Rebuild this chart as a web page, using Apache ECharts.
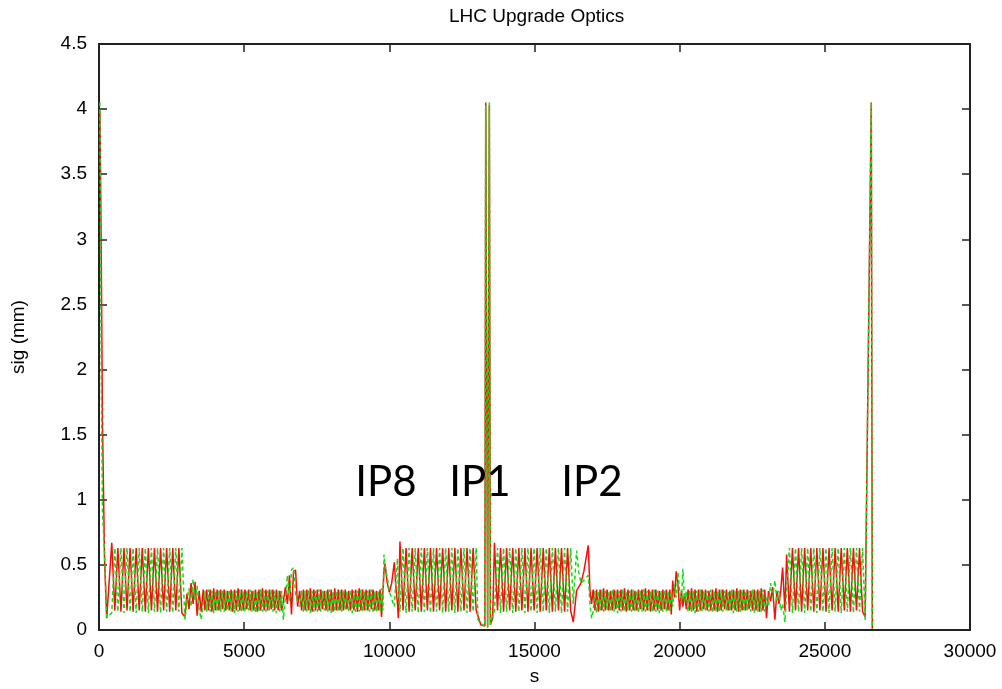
<!DOCTYPE html>
<html>
<head>
<meta charset="utf-8">
<script src="https://cdn.jsdelivr.net/npm/echarts@6.0.0/dist/echarts.min.js"></script>
<style>
html,body{margin:0;padding:0;background:#fff;}
#chart{width:1002px;height:689px;}
</style>
</head>
<body>
<div id="chart"></div>
<script>
// ---- tick values ----
const xTicks = [0, 5000, 10000, 15000, 20000, 25000, 30000];
const yTicks = [0, 0.5, 1, 1.5, 2, 2.5, 3, 3.5, 4, 4.5];

// ---- IP annotations ----
const ipNames = ['IP8', 'IP1', 'IP2'];
const ipS     = [9885, 13122, 16980];
const ipSig   = [1.135, 1.135, 1.135];

// ---- beam size data (s in m, sig in mm); red = sig x, green = sig y ----
// start
const sStart     = [30, 70, 120, 190, 265];
const redStart   = [4.00, 3.10, 1.60, 0.55, 0.09];
const greenStart = [4.05, 2.20, 0.90, 0.60, 0.10];
// arc 1
const sArc1     = [440, 545, 650, 755, 860, 965, 1070, 1175, 1280, 1385, 1490, 1595, 1700, 1805, 1910, 2015, 2120, 2225, 2330, 2435, 2540, 2645, 2750, 2855];
const redArc1   = [0.67,0.15,0.63,0.14,0.63,0.15,0.63,0.14,0.63,0.15,0.63,0.14,0.63,0.15,0.63,0.14,0.63,0.15,0.63,0.14,0.63,0.15,0.63,0.13];
const greenArc1 = [0.13,0.63,0.14,0.63,0.13,0.63,0.14,0.63,0.13,0.63,0.14,0.63,0.13,0.63,0.14,0.63,0.13,0.63,0.14,0.63,0.13,0.63,0.14,0.63];
// transition 1
const sTr1     = [2960, 3030, 3100, 3170, 3240, 3310, 3380, 3450, 3520, 3590];
const redTr1   = [0.10, 0.28, 0.16, 0.36, 0.20, 0.37, 0.11, 0.30, 0.14, 0.31];
const greenTr1 = [0.08, 0.22, 0.32, 0.18, 0.39, 0.22, 0.34, 0.16, 0.08, 0.20];
// low band 1
const sBand1 = [3650,3710,3770,3830,3890,3950,4010,4070,4130,4190,4250,4310,4370,4430,4490,4550,4610,4670,4730,4790,4850,4910,4970,5030,5090,5150,5210,5270,5330,5390,5450,5510,5570,5630,5690,5750,5810,5870,5930,5990,6050,6110,6170,6230,6290];
const redBand1 = [0.15,0.31,0.15,0.31,0.14,0.32,0.15,0.31,0.15,0.31,
                  0.16,0.31,0.15,0.30,0.15,0.31,0.14,0.31,0.15,0.32,
                  0.15,0.31,0.15,0.31,0.16,0.31,0.15,0.30,0.15,0.31,
                  0.14,0.31,0.15,0.32,0.15,0.31,0.15,0.31,0.16,0.31,
                  0.15,0.31,0.15,0.30,0.15];
const greenBand1 = [0.30,0.14,0.31,0.14,0.30,0.13,0.30,0.14,0.31,0.14,
                    0.30,0.14,0.30,0.15,0.31,0.14,0.30,0.13,0.30,0.14,
                    0.31,0.14,0.30,0.14,0.30,0.15,0.31,0.14,0.30,0.13,
                    0.30,0.14,0.31,0.14,0.30,0.14,0.30,0.15,0.31,0.14,
                    0.30,0.13,0.30,0.14,0.30];
// bump 1
const sBump1     = [6350, 6420, 6490, 6560, 6630, 6700, 6770, 6840, 6910, 6980];
const redBump1   = [0.22, 0.33, 0.20, 0.42, 0.12, 0.45, 0.46, 0.18, 0.30, 0.15];
const greenBump1 = [0.08, 0.25, 0.42, 0.22, 0.46, 0.48, 0.28, 0.22, 0.18, 0.30];
// low band 2
const sBand2 = [7040,7100,7160,7220,7280,7340,7400,7460,7520,7580,7640,7700,7760,7820,7880,7940,8000,8060,8120,8180,8240,8300,8360,8420,8480,8540,8600,8660,8720,8780,8840,8900,8960,9020,9080,9140,9200,9260,9320,9380,9440,9500,9560,9620,9680];
const redBand2 = [0.31,0.15,0.31,0.15,0.32,0.14,0.31,0.15,0.31,0.15,
                  0.31,0.16,0.30,0.15,0.31,0.15,0.31,0.14,0.32,0.15,
                  0.31,0.15,0.31,0.15,0.31,0.16,0.30,0.15,0.31,0.15,
                  0.31,0.14,0.32,0.15,0.31,0.15,0.31,0.15,0.31,0.16,
                  0.31,0.15,0.30,0.15,0.31];
const greenBand2 = [0.14,0.30,0.14,0.31,0.13,0.30,0.14,0.30,0.14,0.31,
                    0.14,0.30,0.15,0.30,0.14,0.31,0.13,0.30,0.14,0.30,
                    0.14,0.31,0.14,0.30,0.15,0.30,0.14,0.31,0.13,0.30,
                    0.14,0.30,0.14,0.31,0.14,0.30,0.15,0.30,0.14,0.31,
                    0.13,0.30,0.14,0.30,0.14];
// IP8 region
const sIp8     = [9730, 9780, 9815, 9850, 9930, 10000, 10080, 10172, 10230, 10280, 10310];
const redIp8   = [0.10, 0.30, 0.45, 0.51, 0.36, 0.29, 0.36, 0.52, 0.32, 0.20, 0.09];
const greenIp8 = [0.32, 0.15, 0.58, 0.50, 0.40, 0.30, 0.24, 0.18, 0.40, 0.55, 0.30];
// arc 2
const sArc2     = [10366,10471,10576,10681,10786,10891,10996,11101,11206,11311,11416,11521,11626,11731,11836,11941,12046,12151,12256,12361,12466,12571,12676,12781,12886,12991];
const redArc2   = [0.68,0.15,0.63,0.14,0.63,0.15,0.63,0.14,0.63,0.15,0.63,0.14,0.63,0.15,0.63,0.14,0.63,0.15,0.63,0.14,0.63,0.15,0.63,0.14,0.63,0.15];
const greenArc2 = [0.14,0.63,0.13,0.63,0.14,0.63,0.13,0.63,0.14,0.63,0.13,0.63,0.14,0.63,0.13,0.63,0.14,0.63,0.13,0.63,0.14,0.63,0.13,0.63,0.14,0.63];
// IP1 region
const sIp1     = [13050, 13150, 13290, 13320, 13385, 13445, 13480, 13560];
const redIp1   = [0.15, 0.04, 0.03, 4.05, 0.02, 4.03, 0.04, 0.09];
const greenIp1 = [0.08, 0.05, 0.03, 4.03, 0.02, 4.05, 0.04, 0.12];
// arc 3
const sArc3     = [13620,13725,13830,13935,14040,14145,14250,14355,14460,14565,14670,14775,14880,14985,15090,15195,15300,15405,15510,15615,15720,15825,15930,16035,16140,16245];
const redArc3   = [0.67,0.15,0.63,0.14,0.63,0.15,0.63,0.14,0.63,0.15,0.63,0.14,0.63,0.15,0.63,0.14,0.63,0.15,0.63,0.14,0.63,0.15,0.63,0.14,0.63,0.15];
const greenArc3 = [0.14,0.63,0.13,0.63,0.14,0.63,0.13,0.63,0.14,0.63,0.13,0.63,0.14,0.63,0.13,0.63,0.14,0.63,0.13,0.63,0.14,0.63,0.13,0.63,0.14,0.63];
// IP2 region
const sIp2     = [16335, 16450, 16520, 16600, 16700, 16852, 16910, 16967];
const redIp2   = [0.06, 0.30, 0.33, 0.36, 0.45, 0.65, 0.30, 0.20];
const greenIp2 = [0.20, 0.61, 0.45, 0.36, 0.38, 0.42, 0.20, 0.09];
// low band 3
const sBand3 = [17020,17080,17140,17200,17260,17320,17380,17440,17500,17560,17620,17680,17740,17800,17860,17920,17980,18040,18100,18160,18220,18280,18340,18400,18460,18520,18580,18640,18700,18760,18820,18880,18940,19000,19060,19120,19180,19240,19300,19360,19420,19480,19540,19600,19660];
const redBand3 = [0.31,0.15,0.31,0.14,0.31,0.15,0.32,0.15,0.31,0.15,
                  0.30,0.15,0.31,0.16,0.31,0.15,0.31,0.15,0.32,0.14,
                  0.31,0.15,0.31,0.15,0.30,0.15,0.31,0.16,0.31,0.15,
                  0.32,0.15,0.31,0.14,0.31,0.15,0.31,0.15,0.30,0.15,
                  0.31,0.16,0.31,0.15,0.31];
const greenBand3 = [0.14,0.30,0.13,0.30,0.14,0.31,0.14,0.30,0.15,0.30,
                    0.14,0.31,0.14,0.30,0.13,0.30,0.14,0.31,0.14,0.30,
                    0.15,0.30,0.14,0.31,0.14,0.30,0.13,0.30,0.14,0.31,
                    0.14,0.30,0.15,0.30,0.14,0.31,0.14,0.30,0.13,0.30,
                    0.14,0.31,0.14,0.30,0.14];
// bump 3
const sBump3     = [19710, 19760, 19820, 19880, 19940, 20000, 20060, 20110, 20170, 20230];
const redBump3   = [0.12, 0.38, 0.25, 0.45, 0.35, 0.15, 0.30, 0.18, 0.28, 0.16];
const greenBump3 = [0.28, 0.18, 0.35, 0.25, 0.44, 0.30, 0.20, 0.47, 0.22, 0.30];
// low band 4
const sBand4 = [20290,20350,20410,20470,20530,20590,20650,20710,20770,20830,20890,20950,21010,21070,21130,21190,21250,21310,21370,21430,21490,21550,21610,21670,21730,21790,21850,21910,21970,22030,22090,22150,22210,22270,22330,22390,22450,22510,22570,22630,22690,22750,22810,22870,22930];
const redBand4 = [0.31,0.15,0.32,0.15,0.31,0.14,0.31,0.15,0.31,0.16,
                  0.31,0.15,0.30,0.15,0.31,0.15,0.32,0.14,0.31,0.15,
                  0.31,0.16,0.31,0.15,0.30,0.15,0.31,0.15,0.32,0.14,
                  0.31,0.15,0.31,0.15,0.31,0.16,0.30,0.15,0.31,0.15,
                  0.31,0.14,0.32,0.15,0.31];
const greenBand4 = [0.14,0.31,0.14,0.30,0.13,0.30,0.14,0.31,0.14,0.30,
                    0.15,0.30,0.14,0.31,0.13,0.30,0.14,0.30,0.14,0.31,
                    0.14,0.30,0.15,0.30,0.14,0.31,0.13,0.30,0.14,0.30,
                    0.14,0.31,0.14,0.30,0.15,0.30,0.14,0.31,0.13,0.30,
                    0.14,0.30,0.14,0.31,0.14];
// transition 2
const sTr2     = [22990, 23060, 23130, 23200, 23280, 23350, 23420, 23480, 23546, 23626, 23684];
const redTr2   = [0.09, 0.30, 0.22, 0.33, 0.08, 0.30, 0.20, 0.30, 0.48, 0.15, 0.58];
const greenTr2 = [0.25, 0.18, 0.36, 0.25, 0.38, 0.22, 0.30, 0.15, 0.20, 0.06, 0.30];
// arc 4
const sArc4     = [23780,23885,23990,24095,24200,24305,24410,24515,24620,24725,24830,24935,25040,25145,25250,25355,25460,25565,25670,25775,25880,25985,26090,26195,26300];
const redArc4   = [0.14,0.63,0.15,0.63,0.14,0.63,0.15,0.63,0.14,0.63,0.15,0.63,0.14,0.63,0.15,0.63,0.14,0.63,0.15,0.63,0.14,0.63,0.15,0.63,0.14];
const greenArc4 = [0.63,0.13,0.63,0.14,0.63,0.13,0.63,0.14,0.63,0.13,0.63,0.14,0.63,0.13,0.63,0.14,0.63,0.13,0.63,0.14,0.63,0.13,0.63,0.14,0.63];
// end
const sEnd     = [26390, 26600, 26635];
const redEnd   = [0.10, 4.05, 0.01];
const greenEnd = [0.07, 4.05, 0.01];

const sAll = [].concat(sStart, sArc1, sTr1, sBand1, sBump1, sBand2, sIp8, sArc2, sIp1, sArc3, sIp2, sBand3, sBump3, sBand4, sTr2, sArc4, sEnd);
const redAll = [].concat(redStart, redArc1, redTr1, redBand1, redBump1, redBand2, redIp8, redArc2, redIp1, redArc3, redIp2, redBand3, redBump3, redBand4, redTr2, redArc4, redEnd);
const greenAll = [].concat(greenStart, greenArc1, greenTr1, greenBand1, greenBump1, greenBand2, greenIp8, greenArc2, greenIp1, greenArc3, greenIp2, greenBand3, greenBump3, greenBand4, greenTr2, greenArc4, greenEnd);

const redData = sAll.map((s, i) => [s, redAll[i]]);
const greenData = sAll.map((s, i) => [s, greenAll[i]]);
const ipData = ipNames.map((n, i) => ({ name: n, value: [ipS[i], ipSig[i]] }));

const FONT = '"Liberation Sans", Arial, Helvetica, sans-serif';
const frame = { show: true, onZero: false, lineStyle: { color: '#222', width: 2 } };
const ticks = { show: true, inside: true, length: 8, lineStyle: { color: '#222', width: 1.5 } };

const chart = echarts.init(document.getElementById('chart'), null, { renderer: 'canvas' });
chart.setOption({
  animation: false,
  backgroundColor: '#ffffff',
  title: {
    text: 'LHC Upgrade Optics',
    left: 444, top: 2,
    textStyle: { fontFamily: FONT, fontSize: 19, fontWeight: 'normal', color: '#000' }
  },
  grid: { left: 99, right: 32, top: 44, bottom: 59, containLabel: false, outerBoundsMode: 'none' },
  xAxis: [
    {
      type: 'value', min: xTicks[0], max: xTicks[xTicks.length - 1], interval: xTicks[1] - xTicks[0],
      position: 'bottom',
      axisLine: frame, axisTick: ticks, splitLine: { show: false },
      axisLabel: { fontFamily: FONT, fontSize: 19, color: '#000', margin: 12, formatter: v => String(v) },
      name: 's', nameLocation: 'middle', nameGap: 37, nameMoveOverlap: false,
      nameTextStyle: { fontFamily: FONT, fontSize: 19, color: '#000' }
    },
    {
      type: 'value', min: xTicks[0], max: xTicks[xTicks.length - 1], interval: xTicks[1] - xTicks[0],
      position: 'top',
      axisLine: frame, axisTick: ticks, splitLine: { show: false }, axisLabel: { show: false }
    }
  ],
  yAxis: [
    {
      type: 'value', min: yTicks[0], max: yTicks[yTicks.length - 1], interval: yTicks[1] - yTicks[0],
      position: 'left',
      axisLine: frame, axisTick: ticks, splitLine: { show: false },
      axisLabel: { fontFamily: FONT, fontSize: 19, color: '#000', margin: 12, formatter: v => String(v) },
      name: 'sig (mm)', nameLocation: 'middle', nameGap: 71, nameRotate: 90, nameMoveOverlap: false,
      nameTextStyle: { fontFamily: FONT, fontSize: 19, color: '#000' }
    },
    {
      type: 'value', min: yTicks[0], max: yTicks[yTicks.length - 1], interval: yTicks[1] - yTicks[0],
      position: 'right',
      axisLine: frame, axisTick: ticks, splitLine: { show: false }, axisLabel: { show: false }
    }
  ],
  series: [
    {
      type: 'line', name: 'sigx', data: redData, xAxisIndex: 0, yAxisIndex: 0,
      showSymbol: false, symbol: 'none', silent: true, z: 2,
      lineStyle: { color: '#ff0a0a', width: 1.5 }
    },
    {
      type: 'line', name: 'sigy', data: greenData, xAxisIndex: 0, yAxisIndex: 0,
      showSymbol: false, symbol: 'none', silent: true, z: 3,
      lineStyle: { color: '#12dc12', width: 1.5, type: [4, 3] }
    },
    {
      type: 'scatter', data: ipData, xAxisIndex: 0, yAxisIndex: 0,
      symbolSize: 1, itemStyle: { color: '#ffffff', opacity: 0 }, silent: true, z: 5,
      label: {
        show: true, position: 'inside', formatter: '{b}', opacity: 1,
        fontFamily: 'Lato, "Open Sans", sans-serif', fontSize: 42, fontWeight: 'normal',
        color: '#000000', textBorderWidth: 0
      }
    }
  ]
});
</script>
</body>
</html>
